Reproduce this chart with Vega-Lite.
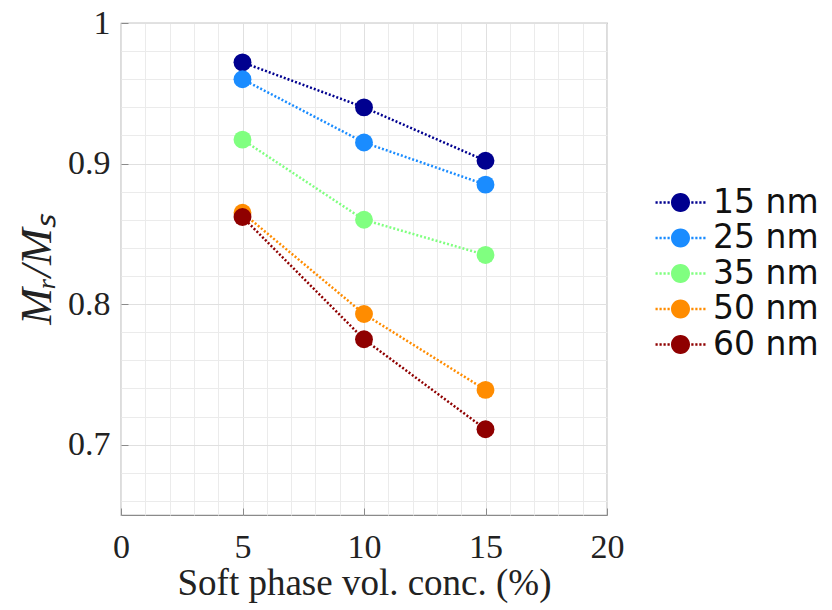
{
  "$schema": "https://vega.github.io/schema/vega-lite/v6.json",
  "width": 486,
  "height": 492,
  "autosize": {"type": "none"},
  "padding": {"left": 121, "top": 23, "right": 225, "bottom": 95},
  "background": "white",
  "config": {
    "view": {"stroke": "#8a8a8a", "strokeWidth": 1.2},
    "axis": {"labelFont": "Liberation Serif", "titleFont": "Liberation Serif", "labelColor": "#222", "titleColor": "#222"}
  },
  "datasets": {
    "mr": [
      {"conc": 5, "ratio": 0.972, "size": "15 nm"},
      {"conc": 10, "ratio": 0.940, "size": "15 nm"},
      {"conc": 15, "ratio": 0.902, "size": "15 nm"},
      {"conc": 5, "ratio": 0.960, "size": "25 nm"},
      {"conc": 10, "ratio": 0.915, "size": "25 nm"},
      {"conc": 15, "ratio": 0.885, "size": "25 nm"},
      {"conc": 5, "ratio": 0.917, "size": "35 nm"},
      {"conc": 10, "ratio": 0.860, "size": "35 nm"},
      {"conc": 15, "ratio": 0.835, "size": "35 nm"},
      {"conc": 5, "ratio": 0.865, "size": "50 nm"},
      {"conc": 10, "ratio": 0.793, "size": "50 nm"},
      {"conc": 15, "ratio": 0.739, "size": "50 nm"},
      {"conc": 5, "ratio": 0.862, "size": "60 nm"},
      {"conc": 10, "ratio": 0.775, "size": "60 nm"},
      {"conc": 15, "ratio": 0.711, "size": "60 nm"}
    ]
  },
  "data": {"name": "mr"},
  "layer": [
    {
      "mark": {"type": "point", "opacity": 0},
      "encoding": {
        "x": {
          "field": "conc", "type": "quantitative",
          "scale": {"domain": [0, 20], "nice": false, "zero": false},
          "axis": {
            "orient": "top", "title": null, "labels": false, "ticks": false, "domain": false,
            "grid": true, "gridColor": "#ebebeb", "gridWidth": 1,
            "values": [1, 2, 3, 4, 6, 7, 8, 9, 11, 12, 13, 14, 16, 17, 18, 19]
          }
        },
        "y": {
          "field": "ratio", "type": "quantitative",
          "scale": {"domain": [0.65, 1.0], "nice": false, "zero": false},
          "axis": {
            "orient": "right", "title": null, "labels": false, "ticks": false, "domain": false,
            "grid": true, "gridColor": "#ebebeb", "gridWidth": 1,
            "values": [0.66, 0.68, 0.72, 0.74, 0.76, 0.78, 0.82, 0.84, 0.86, 0.88, 0.92, 0.94, 0.96, 0.98]
          }
        }
      }
    },
    {
      "encoding": {
        "x": {
          "field": "conc", "type": "quantitative",
          "scale": {"domain": [0, 20], "nice": false, "zero": false},
          "axis": {
            "title": "Soft phase vol. conc. (%)",
            "values": [0, 5, 10, 15, 20],
            "grid": true, "gridColor": "#e0e0e0",
            "domain": false,
            "tickSize": -7, "tickColor": "#8a8a8a",
            "labelFontSize": 34, "labelPadding": 22, "labelFlush": false,
            "titleFontSize": 37, "titleFontWeight": "normal", "titlePadding": 1
          }
        },
        "y": {
          "field": "ratio", "type": "quantitative",
          "scale": {"domain": [0.65, 1.0], "nice": false, "zero": false},
          "axis": {
            "title": "Mᵣ/Mₛ",
            "titleFontStyle": "italic",
            "values": [0.7, 0.8, 0.9, 1.0],
            "labelExpr": "datum.value == 1 ? '1' : format(datum.value, '.1f')",
            "grid": true, "gridColor": "#e0e0e0",
            "domain": false,
            "tickSize": -7, "tickColor": "#8a8a8a",
            "labelFontSize": 34, "labelPadding": 18, "labelFlush": false,
            "titleFontSize": 44, "titleFontWeight": "normal", "titlePadding": 8
          }
        },
        "color": {
          "field": "size", "type": "nominal",
          "scale": {
            "domain": ["15 nm", "25 nm", "35 nm", "50 nm", "60 nm"],
            "range": ["#00008f", "#1a8cff", "#80ff80", "#ff8c00", "#8f0000"]
          },
          "legend": {
            "title": null,
            "orient": "none",
            "legendX": 543,
            "legendY": 163,
            "symbolType": "M-2.5,-0.12h0.22v0.24h-0.22ZM-2.1,-0.12h0.22v0.24h-0.22ZM-1.7,-0.12h0.22v0.24h-0.22ZM-1.3,-0.12h0.22v0.24h-0.22ZM1.08,-0.12h0.22v0.24h-0.22ZM1.48,-0.12h0.22v0.24h-0.22ZM1.88,-0.12h0.22v0.24h-0.22ZM2.28,-0.12h0.22v0.24h-0.22ZM-0.95,0A0.95,0.95,0,1,1,0.95,0A0.95,0.95,0,1,1,-0.95,0Z",
            "symbolSize": 400,
            "symbolStrokeWidth": 0,
            "labelFont": "DejaVu Sans",
            "labelFontSize": 33,
            "labelColor": "#111",
            "labelOffset": 16,
            "rowPadding": 1.5,
            "encode": {
              "symbols": {
                "update": {
                  "fill": {"scale": "color", "field": "value"},
                  "stroke": {"value": "transparent"},
                  "opacity": {"value": 1}
                }
              }
            }
          }
        }
      },
      "layer": [
        {"mark": {"type": "line", "strokeDash": [2, 2], "strokeWidth": 2.5}},
        {"mark": {"type": "point", "filled": true, "size": 320, "opacity": 1, "strokeWidth": 0}}
      ]
    }
  ],
  "resolve": {"axis": {"x": "independent", "y": "independent"}}
}
